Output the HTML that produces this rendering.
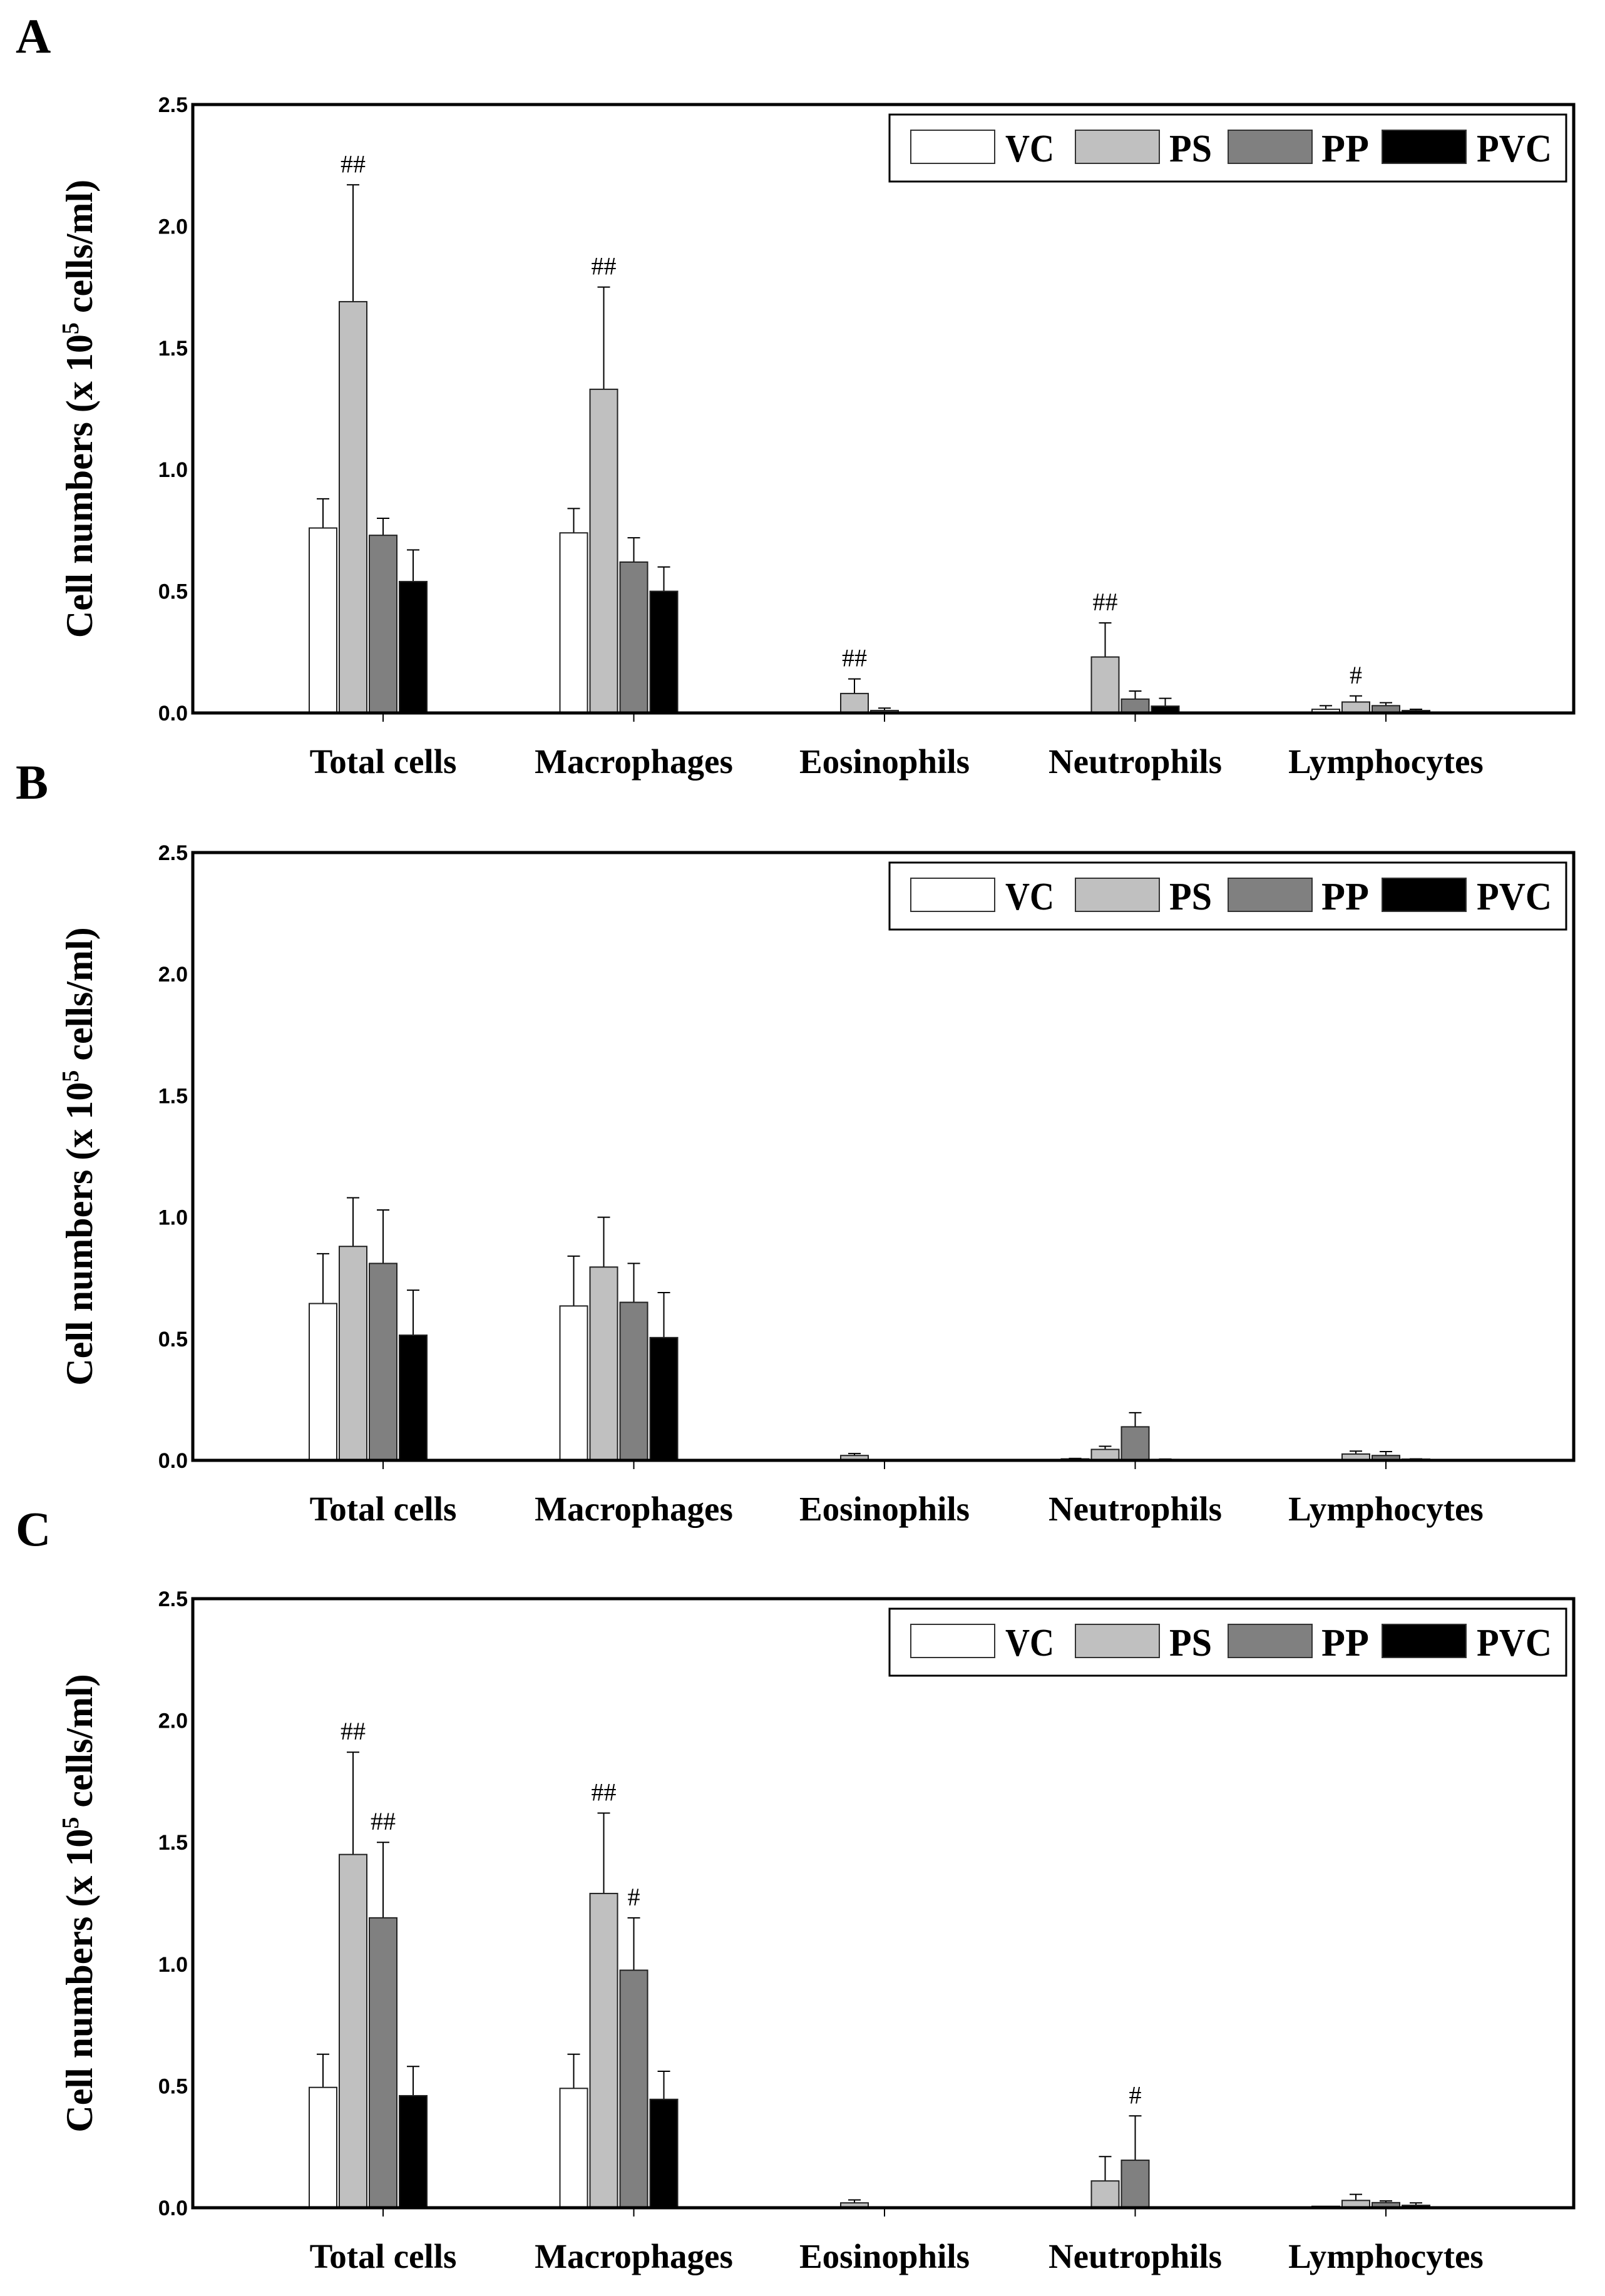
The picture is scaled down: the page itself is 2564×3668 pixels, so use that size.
<!DOCTYPE html>
<html><head><meta charset="utf-8">
<style>
html,body{margin:0;padding:0;background:#fff;}
svg{display:block;}
</style></head>
<body>
<svg id="fig" xmlns="http://www.w3.org/2000/svg" width="2564" height="3668" viewBox="0 0 2564 3668">
<rect x="0" y="0" width="2564" height="3668" fill="#fff"/>
</svg>
<script>
const categories = ["Total cells","Macrophages","Eosinophils","Neutrophils","Lymphocytes"];
const seriesNames = ["VC","PS","PP","PVC"];
const seriesColors = ["#ffffff","#c0c0c0","#808080","#000000"];
const yTicks = [0,0.5,1.0,1.5,2.0,2.5];
const yTickLabels = ["0.0","0.5","1.0","1.5","2.0","2.5"];
// Panel A
const aVC  = [0.76,0.74,0,0,0.015];
const aPS  = [1.69,1.33,0.08,0.23,0.045];
const aPP  = [0.73,0.62,0.01,0.057,0.03];
const aPVC = [0.54,0.50,0,0.028,0.01];
const aVCerr  = [0.88,0.84,0,0,0.03];
const aPSerr  = [2.17,1.75,0.14,0.37,0.07];
const aPPerr  = [0.80,0.72,0.02,0.09,0.042];
const aPVCerr = [0.67,0.60,0,0.06,0.015];
const aMarks = [[1,0,"##"],[1,1,"##"],[1,2,"##"],[1,3,"##"],[1,4,"#"]];
// Panel B
const bVC  = [0.645,0.635,0,0.006,0];
const bPS  = [0.88,0.795,0.02,0.045,0.026];
const bPP  = [0.81,0.65,0,0.138,0.02];
const bPVC = [0.515,0.505,0,0.004,0.005];
const bVCerr  = [0.85,0.84,0,0.008,0];
const bPSerr  = [1.08,1.0,0.028,0.058,0.038];
const bPPerr  = [1.03,0.81,0,0.196,0.036];
const bPVCerr = [0.70,0.69,0,0.005,0.006];
const bMarks = [];
// Panel C
const cVC  = [0.494,0.49,0,0,0.006];
const cPS  = [1.45,1.29,0.02,0.11,0.03];
const cPP  = [1.19,0.975,0,0.195,0.021];
const cPVC = [0.46,0.445,0,0,0.01];
const cVCerr  = [0.63,0.63,0,0,0.006];
const cPSerr  = [1.87,1.62,0.032,0.21,0.055];
const cPPerr  = [1.50,1.19,0,0.377,0.028];
const cPVCerr = [0.58,0.56,0,0,0.02];
const cMarks = [[1,0,"##"],[2,0,"##"],[1,1,"##"],[2,1,"#"],[2,3,"#"]];

const panels = [
  {letter:"A", top:167, bottom:1139, letterY:84, vals:[aVC,aPS,aPP,aPVC], errs:[aVCerr,aPSerr,aPPerr,aPVCerr], marks:aMarks},
  {letter:"B", top:1362, bottom:2333, letterY:1276, vals:[bVC,bPS,bPP,bPVC], errs:[bVCerr,bPSerr,bPPerr,bPVCerr], marks:bMarks},
  {letter:"C", top:2554, bottom:3527, letterY:2469, vals:[cVC,cPS,cPP,cPVC], errs:[cVCerr,cPSerr,cPPerr,cPVCerr], marks:cMarks}
];
const NS="http://www.w3.org/2000/svg";
const svg=document.getElementById('fig');
function mk(tag,attrs,parent){const e=document.createElementNS(NS,tag);for(const k in attrs)e.setAttribute(k,attrs[k]);(parent||svg).appendChild(e);return e;}
const L=308,R=2514;
const catX = i => 612 + i*400.5;
const legendSw=[1455,1718,1962,2208], legendTx=[1606,1868,2111,2359], legendW=[78,68,76,120];

panels.forEach((p,pi)=>{
  const g=mk('g',{});
  
  
  const y = v => p.bottom - v/2.5*(p.bottom-p.top);
  const t=mk('text',{x:25,y:p.letterY,'font-family':'Liberation Serif, serif','font-weight':'bold','font-size':78},g);
  t.textContent=p.letter;
  
  
  yTicks.forEach((v,i)=>{
    const tl=mk('text',{x:300,y:y(v)+12,'text-anchor':'end','font-family':'Liberation Sans, sans-serif','font-weight':'bold','font-size':34},g);
    tl.textContent=yTickLabels[i];
    
    
  });
  const cy=(p.top+p.bottom)/2;
  const yt=mk('text',{x:0,y:0,transform:`translate(147,${cy}) rotate(-90)`,'text-anchor':'middle','font-family':'Liberation Serif, serif','font-weight':'bold','font-size':60},g);
  yt.innerHTML='Cell numbers (x 10<tspan dy="-22" font-size="38">5</tspan><tspan dy="22"> cells/ml)</tspan>';
  
  
  categories.forEach((c,ci)=>{
    const tx=catX(ci);
    p.vals.forEach((arr,si)=>{
      const x=tx-118+si*48, v=arr[ci], e=p.errs[si][ci];
      if(e>v){
        const el=mk('g',{stroke:'#000','stroke-width':2},g);
        
        
        mk('line',{x1:x+22,x2:x+22,y1:y(v),y2:y(e)},el);
        mk('line',{x1:x+12,x2:x+32,y1:y(e),y2:y(e)},el);
      }
      if(v>0){
        const b=mk('rect',{x:x,y:y(v),width:44,height:y(0)-y(v),fill:seriesColors[si],stroke:'#222','stroke-width':2},g);
        
        
      }
    });
    mk('line',{x1:tx,x2:tx,y1:p.bottom,y2:p.bottom+14,stroke:'#000','stroke-width':2},g);
    const cl=mk('text',{x:tx,y:p.bottom+96,'text-anchor':'middle','font-family':'Liberation Serif, serif','font-weight':'bold','font-size':55},g);
    cl.textContent=c;
    
    
  });
  p.marks.forEach(m=>{
    const si=m[0],ci=m[1];
    const x=catX(ci)-118+si*48+22;
    const mt=mk('text',{x:x,y:y(p.errs[si][ci])-20,'text-anchor':'middle','font-family':'Liberation Serif, serif','font-size':40},g);
    mt.textContent=m[2];
    
    
  });
  const fr=mk('rect',{x:L,y:p.top,width:R-L,height:p.bottom-p.top,fill:'none',stroke:'#000','stroke-width':5},g);
  
  
  const lg=mk('g',{},g);
  
  
  mk('rect',{x:1421,y:p.top+16,width:1081,height:107,fill:'#fff',stroke:'#000','stroke-width':3},lg);
  seriesNames.forEach((s,si)=>{
    const en=mk('g',{},lg);
    
    
    mk('rect',{x:legendSw[si],y:p.top+41,width:134,height:53,fill:seriesColors[si],stroke:'#333','stroke-width':2},en);
    const lt=mk('text',{x:legendTx[si],y:p.top+91,'font-family':'Liberation Serif, serif','font-weight':'bold','font-size':62,textLength:legendW[si],lengthAdjust:'spacingAndGlyphs'},en);
    lt.textContent=s;
  });
});
</script>
</body></html>
